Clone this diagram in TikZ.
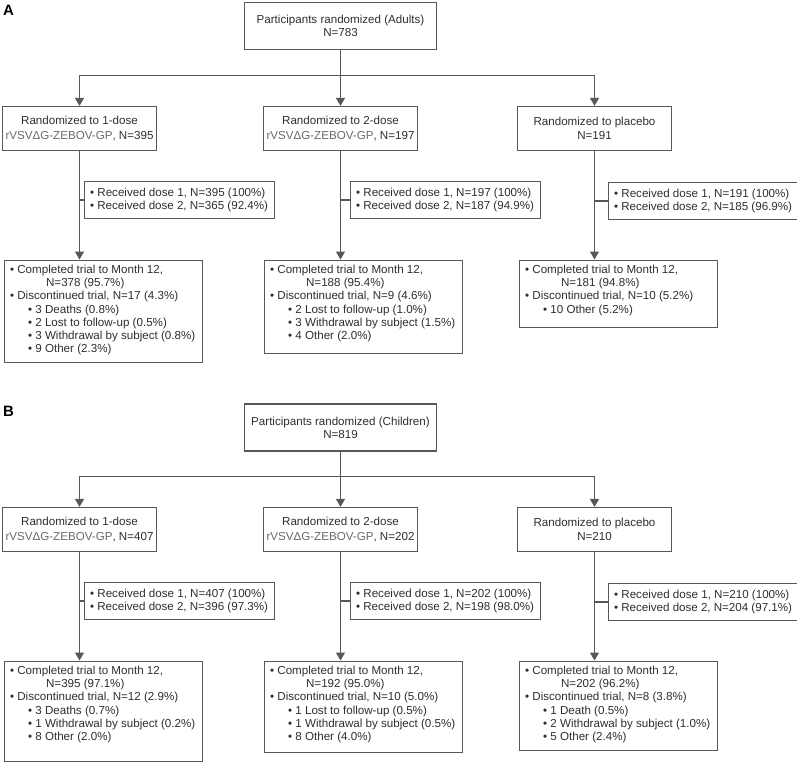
\documentclass[tikz,border=0pt]{standalone}
\usepackage{fontspec}
\setmainfont{Liberation Sans}
\usepackage{xcolor}
\usetikzlibrary{arrows.meta, positioning, calc}

\definecolor{linegray}{HTML}{585858}
\definecolor{textgray}{HTML}{2E2E2E}
\definecolor{vecgray}{HTML}{6A6A6A}

\newcommand{\vsv}{\textcolor{vecgray}{rVSVΔG-ZEBOV-GP}}
\newcommand{\subpt}{\hspace*{18pt}\textbullet~}
\newcommand{\nline}{\hspace*{36pt}}
\newcommand{\outcome}[2]{\parbox[c][#1][t]{186pt}{#2}}
\newcommand{\doses}[2]{\parbox{178pt}{\textbullet~Received dose 1, #1\\\textbullet~Received dose 2, #2}}

\tikzset{
  headbox/.style={draw=linegray, line width=1.2pt, text=textgray, align=center,
    minimum width=192pt, minimum height=47pt, inner sep=0pt,
    font=\fontsize{11.6}{13.3}\selectfont},
  armbox/.style={draw=linegray, line width=1.2pt, text=textgray, align=center,
    minimum width=154pt, minimum height=44pt, inner sep=0pt,
    font=\fontsize{11.6}{14.5}\selectfont},
  dosebox/.style={draw=linegray, line width=1.2pt, text=textgray,
    anchor=west, minimum height=37pt, inner xsep=6pt, inner ysep=0pt,
    font=\fontsize{11.6}{13}\selectfont},
  endbox/.style={draw=linegray, line width=1.2pt, text=textgray, anchor=north west,
    inner xsep=6pt, inner ysep=5pt, font=\fontsize{11.6}{13.2}\selectfont},
  panel/.style={anchor=base west, inner sep=0pt, text=black,
    font=\fontsize{15}{15}\selectfont\bfseries},
  link/.style={draw=linegray, line width=1.2pt},
  arrowlink/.style={link, -{Triangle[width=9pt,length=8pt]}}
}

\begin{document}
\begin{tikzpicture}[x=1pt,y=-1pt]
\useasboundingbox (0,0) rectangle (797,763);

% Panel A: adults
\node[panel] (labA) at (3,15) {A};
\node[headbox] (topA) at (340.5,26) {Participants randomized (Adults)\\N=783};
\coordinate (splitA) at (340.5,75.5);

\node[armbox] (oneA) at (79.5,128.5) {Randomized to 1-dose\\\vsv, N=395};
\node[armbox] (twoA) at (340.5,128.5) {Randomized to 2-dose\\\vsv, N=197};
\node[armbox] (plaA) at (594.5,128.5) {Randomized to placebo\\N=191};

\node[dosebox] (dOneA) at (83.5,200) {\doses{N=395 (100\%)}{N=365 (92.4\%)}};
\node[dosebox] (dTwoA) at (349.5,200) {\doses{N=197 (100\%)}{N=187 (94.9\%)}};
\node[dosebox] (dPlaA) at (607.5,201) {\doses{N=191 (100\%)}{N=185 (96.9\%)}};

\node[endbox] (eOneA) at (3.5,259.5) {\outcome{92pt}{\textbullet~Completed trial to Month 12,\\\nline N=378 (95.7\%)\\\textbullet~Discontinued trial, N=17 (4.3\%)\\\subpt 3 Deaths (0.8\%)\\\subpt 2 Lost to follow-up (0.5\%)\\\subpt 3 Withdrawal by subject (0.8\%)\\\subpt 9 Other (2.3\%)}};
\node[endbox] (eTwoA) at (263.5,259.5) {\outcome{83pt}{\textbullet~Completed trial to Month 12,\\\nline N=188 (95.4\%)\\\textbullet~Discontinued trial, N=9 (4.6\%)\\\subpt 2 Lost to follow-up (1.0\%)\\\subpt 3 Withdrawal by subject (1.5\%)\\\subpt 4 Other (2.0\%)}};
\node[endbox] (ePlaA) at (518.5,259.5) {\outcome{57pt}{\textbullet~Completed trial to Month 12,\\\nline N=181 (94.8\%)\\\textbullet~Discontinued trial, N=10 (5.2\%)\\\subpt 10 Other (5.2\%)}};

\draw[arrowlink] (topA.south) -- (twoA.north);
\draw[arrowlink] (splitA) -| (oneA.north);
\draw[arrowlink] (splitA) -| (plaA.north);
\draw[arrowlink] (oneA.south) -- (oneA.south |- eOneA.north);
\draw[arrowlink] (twoA.south) -- (twoA.south |- eTwoA.north);
\draw[arrowlink] (plaA.south) -- (plaA.south |- ePlaA.north);
\draw[link] (dOneA.west) -- (dOneA.west -| oneA.south);
\draw[link] (dTwoA.west) -- (dTwoA.west -| twoA.south);
\draw[link] (dPlaA.west) -- (dPlaA.west -| plaA.south);

% Panel B: children
\node[panel] (labB) at (3,416) {B};
\node[headbox] (topB) at (340.5,427.5) {Participants randomized (Children)\\N=819};
\coordinate (splitB) at (340.5,476.5);

\node[armbox] (oneB) at (79.5,529.5) {Randomized to 1-dose\\\vsv, N=407};
\node[armbox] (twoB) at (340.5,529.5) {Randomized to 2-dose\\\vsv, N=202};
\node[armbox] (plaB) at (594.5,529.5) {Randomized to placebo\\N=210};

\node[dosebox] (dOneB) at (83.5,601) {\doses{N=407 (100\%)}{N=396 (97.3\%)}};
\node[dosebox] (dTwoB) at (349.5,601) {\doses{N=202 (100\%)}{N=198 (98.0\%)}};
\node[dosebox] (dPlaB) at (607.5,602) {\doses{N=210 (100\%)}{N=204 (97.1\%)}};

\node[endbox] (eOneB) at (3.5,660.5) {\outcome{90pt}{\textbullet~Completed trial to Month 12,\\\nline N=395 (97.1\%)\\\textbullet~Discontinued trial, N=12 (2.9\%)\\\subpt 3 Deaths (0.7\%)\\\subpt 1 Withdrawal by subject (0.2\%)\\\subpt 8 Other (2.0\%)}};
\node[endbox] (eTwoB) at (263.5,660.5) {\outcome{81pt}{\textbullet~Completed trial to Month 12,\\\nline N=192 (95.0\%)\\\textbullet~Discontinued trial, N=10 (5.0\%)\\\subpt 1 Lost to follow-up (0.5\%)\\\subpt 1 Withdrawal by subject (0.5\%)\\\subpt 8 Other (4.0\%)}};
\node[endbox] (ePlaB) at (518.5,660.5) {\outcome{79pt}{\textbullet~Completed trial to Month 12,\\\nline N=202 (96.2\%)\\\textbullet~Discontinued trial, N=8 (3.8\%)\\\subpt 1 Death (0.5\%)\\\subpt 2 Withdrawal by subject (1.0\%)\\\subpt 5 Other (2.4\%)}};

\draw[arrowlink] (topB.south) -- (twoB.north);
\draw[arrowlink] (splitB) -| (oneB.north);
\draw[arrowlink] (splitB) -| (plaB.north);
\draw[arrowlink] (oneB.south) -- (oneB.south |- eOneB.north);
\draw[arrowlink] (twoB.south) -- (twoB.south |- eTwoB.north);
\draw[arrowlink] (plaB.south) -- (plaB.south |- ePlaB.north);
\draw[link] (dOneB.west) -- (dOneB.west -| oneB.south);
\draw[link] (dTwoB.west) -- (dTwoB.west -| twoB.south);
\draw[link] (dPlaB.west) -- (dPlaB.west -| plaB.south);
\end{tikzpicture}
\end{document}
